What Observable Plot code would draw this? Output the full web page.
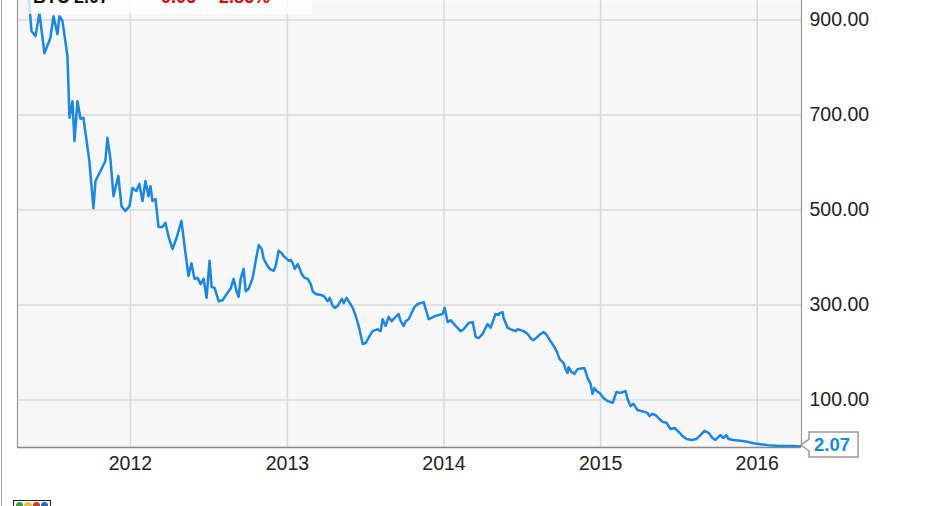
<!DOCTYPE html>
<html>
<head>
<meta charset="utf-8">
<script src="https://cdn.jsdelivr.net/npm/d3@7"></script>
<script src="https://cdn.jsdelivr.net/npm/@observablehq/plot@0.6"></script>
<style>
html,body{margin:0;padding:0;background:#fff;}
#wrap{position:relative;width:931px;height:506px;overflow:hidden;font-family:"Liberation Sans",Arial,sans-serif;}
#edge{position:absolute;left:1px;top:0;width:1px;height:506px;background:#aaa;}
#legend{position:absolute;left:0;top:0;}
#logo{position:absolute;left:13px;top:500px;width:38px;height:12px;border:1px solid #222;background:#fff;display:flex;gap:1px;padding:1px 2px;box-sizing:border-box;}
#logo span{display:block;width:8px;height:10px;border-radius:5px;}
</style>
</head>
<body>
<div id="wrap">
  <div id="chart"></div>
  <div id="edge"></div>
  <svg id="legend" width="931" height="20">
    <rect x="28" y="0" width="284" height="14" fill="#fff" fill-opacity="0.75"></rect>
    <text x="33" y="3" font-size="18" font-weight="bold" fill="#111" font-family="Liberation Sans, Arial, sans-serif">BTU</text>
    <text x="74" y="3" font-size="18" font-weight="bold" fill="#111" font-family="Liberation Sans, Arial, sans-serif">2.07</text>
    <text x="155" y="3" font-size="18" font-weight="bold" fill="#e00000" font-family="Liberation Sans, Arial, sans-serif">-0.06</text>
    <text x="213" y="3" font-size="18" font-weight="bold" fill="#e00000" font-family="Liberation Sans, Arial, sans-serif">-2.86%</text>
  </svg>
  <div id="logo"><span style="background:#2e9e3e"></span><span style="background:#e8c23a"></span><span style="background:#d8322b"></span><span style="background:#2a62c4"></span></div>
</div>
<script>
// Dates as decimal years
const years = [
  2011.349, 2011.368, 2011.394, 2011.419, 2011.451, 2011.489, 2011.509, 2011.534, 2011.547, 2011.566,
  2011.598, 2011.611, 2011.630, 2011.643, 2011.662, 2011.681, 2011.700, 2011.738, 2011.764, 2011.777,
  2011.809, 2011.840, 2011.853, 2011.872, 2011.892, 2011.923, 2011.943, 2011.968, 2011.994, 2012.013,
  2012.038, 2012.057, 2012.077, 2012.096, 2012.115, 2012.128, 2012.140, 2012.160, 2012.179, 2012.204,
  2012.223, 2012.242, 2012.268, 2012.294, 2012.325, 2012.345, 2012.370, 2012.389, 2012.408, 2012.428,
  2012.447, 2012.466, 2012.485, 2012.504, 2012.517, 2012.536, 2012.562, 2012.587, 2012.613, 2012.638,
  2012.657, 2012.676, 2012.689, 2012.702, 2012.721, 2012.734, 2012.753, 2012.779, 2012.798, 2012.817,
  2012.836, 2012.849, 2012.874, 2012.887, 2012.913, 2012.925, 2012.944, 2012.964, 2012.976, 2012.996,
  2013.008, 2013.021, 2013.034, 2013.047, 2013.066, 2013.079, 2013.091, 2013.110, 2013.130, 2013.149,
  2013.161, 2013.181, 2013.213, 2013.232, 2013.257, 2013.270, 2013.289, 2013.302, 2013.321, 2013.347,
  2013.359, 2013.378, 2013.391, 2013.417, 2013.436, 2013.455, 2013.481, 2013.500, 2013.525, 2013.544,
  2013.576, 2013.595, 2013.608, 2013.627, 2013.646, 2013.666, 2013.691, 2013.710, 2013.723, 2013.742,
  2013.755, 2013.774, 2013.793, 2013.812, 2013.832, 2013.851, 2013.870, 2013.902, 2013.946, 2013.991,
  2014.004, 2014.023, 2014.042, 2014.074, 2014.106, 2014.125, 2014.157, 2014.183, 2014.202, 2014.221,
  2014.246, 2014.278, 2014.297, 2014.329, 2014.348, 2014.355, 2014.374, 2014.380, 2014.406, 2014.425,
  2014.457, 2014.470, 2014.489, 2014.508, 2014.534, 2014.559, 2014.572, 2014.597, 2014.616, 2014.636,
  2014.655, 2014.680, 2014.700, 2014.719, 2014.738, 2014.763, 2014.776, 2014.789, 2014.795, 2014.814,
  2014.833, 2014.853, 2014.885, 2014.897, 2014.917, 2014.936, 2014.948, 2014.961, 2014.974, 2014.993,
  2015.018, 2015.044, 2015.076, 2015.082, 2015.101, 2015.121, 2015.146, 2015.159, 2015.172, 2015.191,
  2015.210, 2015.235, 2015.255, 2015.280, 2015.299, 2015.312, 2015.331, 2015.351, 2015.370, 2015.395,
  2015.421, 2015.446, 2015.472, 2015.504, 2015.523, 2015.549, 2015.580, 2015.612, 2015.638, 2015.663,
  2015.689, 2015.714, 2015.733, 2015.765, 2015.784, 2015.803, 2015.816, 2015.848, 2015.893, 2015.937,
  2015.976, 2016.021, 2016.065, 2016.148, 2016.231, 2016.276
];
// Closing prices
const prices = [
  957, 877, 866, 915, 830, 862, 908, 870, 908, 898,
  824, 694, 729, 645, 729, 692, 694, 603, 504, 561,
  582, 603, 652, 609, 529, 572, 508, 498, 508, 546,
  540, 555, 519, 561, 529, 550, 519, 523, 464, 464,
  473, 445, 418, 441, 477, 424, 361, 388, 355, 357,
  344, 355, 315, 393, 338, 336, 308, 310, 323, 334,
  355, 329, 317, 355, 376, 329, 334, 357, 393, 426,
  418, 397, 382, 376, 372, 382, 414, 409, 403, 397,
  393, 395, 388, 376, 386, 376, 365, 357, 355, 344,
  329, 323, 321, 319, 308, 315, 298, 294, 298, 313,
  304, 315, 308, 294, 277, 256, 218, 220, 235, 245,
  249, 245, 270, 256, 275, 266, 275, 281, 266, 256,
  266, 270, 283, 296, 302, 304, 306, 270, 277, 281,
  294, 264, 268, 256, 245, 249, 262, 264, 233, 230,
  239, 260, 252, 281, 279, 283, 285, 273, 252, 249,
  245, 249, 247, 245, 239, 228, 226, 233, 239, 243,
  237, 224, 214, 203, 186, 178, 165, 157, 169, 159,
  155, 165, 167, 167, 146, 134, 113, 125, 119, 115,
  104, 98, 94, 98, 117, 115, 117, 119, 102, 87,
  92, 79, 77, 75, 73, 66, 71, 68, 62, 54,
  52, 39, 41, 31, 24, 18, 16, 18, 26, 35,
  31, 20, 16, 26, 20, 26, 18, 16, 14, 12,
  9, 7, 5, 3, 3, 2.07
];
const yTicks = [100, 300, 500, 700, 900];
const xTickYears = [2012, 2013, 2014, 2015, 2016];
const xDomainYears = [2011.279, 2016.282];

function toDate(dy) {
  const y = Math.floor(dy);
  const a = Date.UTC(y, 0, 1), b = Date.UTC(y + 1, 0, 1);
  return new Date(a + (dy - y) * (b - a));
}

const data = years.map((t, i) => ({date: toDate(t), price: prices[i]}));
const xTicks = xTickYears.map(y => new Date(Date.UTC(y, 0, 1)));
const xDomain = xDomainYears.map(toDate);
const lineColor = "#1787e8";

function endLabel(index, scales) {
  const last = data[data.length - 1];
  const px = scales.x(last.date), py = scales.y(last.price) - 1;
  const g = d3.create("svg:g");
  const x0 = px + 1, bx = x0 + 8, bw = 49, top = py - 13, bot = py + 12;
  g.append("path")
    .attr("d", `M${x0},${py}L${bx},${py - 6}V${top}H${bx + bw}V${bot}H${bx}V${py + 6}Z`)
    .attr("fill", "#fff").attr("stroke", "#999").attr("stroke-width", 1.5);
  g.append("text")
    .attr("x", bx + 5).attr("y", py)
    .attr("dy", "0.35em")
    .attr("text-anchor", "start")
    .attr("fill", lineColor)
    .attr("font-weight", "bold")
    .attr("font-size", "18.5px")
    .text(last.price.toFixed(2));
  return g.node();
}

const chart = Plot.plot({
  width: 931,
  height: 506,
  marginTop: 0,
  marginLeft: 17,
  marginRight: 130,
  marginBottom: 59,
  x: {type: "utc", domain: xDomain, label: null},
  y: {domain: [0, 941], label: null},
  style: {fontFamily: "Liberation Sans, Arial, sans-serif", fontSize: "19.5px", color: "#222", background: "transparent"},
  marks: [
    Plot.frame({fill: "#f7f7f7", stroke: null}),
    Plot.gridY(yTicks, {stroke: "#dadada", strokeOpacity: 1, strokeWidth: 1.5}),
    Plot.gridX(xTicks, {stroke: "#dadada", strokeOpacity: 1, strokeWidth: 1.5}),
    Plot.ruleX(xDomain, {stroke: "#999", strokeWidth: 1.2}),
    Plot.ruleY([0], {stroke: "#888", strokeWidth: 1.5}),
    Plot.lineY(data, {x: "date", y: "price", stroke: lineColor, strokeWidth: 2.5, clip: true}),
    Plot.axisY(yTicks, {anchor: "right", tickSize: 0, tickPadding: 8, tickFormat: d => d.toFixed(2), textAnchor: "start"}),
    Plot.axisX(xTicks, {anchor: "bottom", tickSize: 0, tickPadding: 9, tickFormat: "%Y"}),
    endLabel
  ]
});
document.getElementById("chart").appendChild(chart);
</script>
</body>
</html>
